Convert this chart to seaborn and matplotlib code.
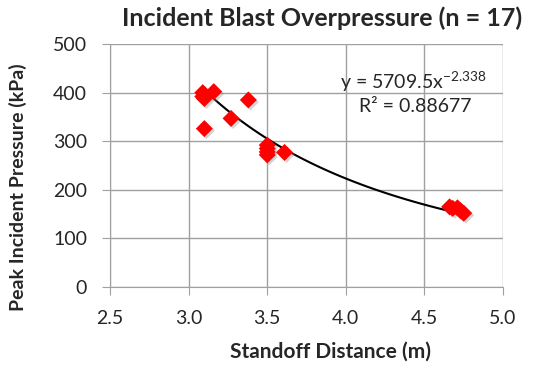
import matplotlib
matplotlib.use('Agg')
import matplotlib.pyplot as plt
import matplotlib.patheffects as pe
import numpy as np
import pandas as pd
import seaborn as sns

# Data
standoff = [3.09, 3.09, 3.10, 3.16, 3.10, 3.27, 3.38,
            3.50, 3.50, 3.50, 3.50, 3.61,
            4.66, 4.68, 4.71, 4.73, 4.75]
pressure = [400, 392, 388, 402, 326, 347, 385,
            292, 285, 278, 272, 277,
            165, 162, 163, 157, 152]

# Power trendline shown on the chart: y = 5709.5 x^-2.338
coef_a = 5709.5
coef_b = -2.338
r_squared = 0.88677

df = pd.DataFrame({'Standoff': standoff, 'Pressure': pressure})
x_fit = np.linspace(min(standoff), max(standoff), 100)
fit_df = pd.DataFrame({'Standoff': x_fit, 'Pressure': coef_a * x_fit ** coef_b})

sns.set_style('white')
plt.rcParams['font.family'] = ['Lato', 'DejaVu Sans']
plt.rcParams['mathtext.fontset'] = 'custom'
plt.rcParams['mathtext.rm'] = 'Lato'
plt.rcParams['mathtext.it'] = 'Lato:italic'

fig = plt.figure(figsize=(5.38, 3.68), dpi=100)
ax = fig.add_axes([0.2045, 0.22, 0.7305, 0.6603])

sns.lineplot(x='Standoff', y='Pressure', data=fit_df, ax=ax, color='black', linewidth=1.5)
sns.scatterplot(x='Standoff', y='Pressure', data=df, ax=ax, color='#ff0000', marker='D',
                s=75, edgecolor='#ff0000', linewidth=0, zorder=3)
ax.collections[-1].set_path_effects([pe.SimplePatchShadow(offset=(1.5, -1.5), shadow_rgbFace='#888888', alpha=0.35),
                                     pe.Normal()])

ax.set_xlim(2.5, 5.0)
ax.set_ylim(0, 500)
ax.set_xticks([2.5, 3.0, 3.5, 4.0, 4.5, 5.0])
ax.set_xticklabels(['2.5', '3.0', '3.5', '4.0', '4.5', '5.0'])
ax.set_yticks([0, 100, 200, 300, 400, 500])
ax.grid(True, color='#a0a0a0', linewidth=1)
ax.set_axisbelow(True)
for side in ['top', 'right']:
    ax.spines[side].set_visible(False)
for side in ['left', 'bottom']:
    ax.spines[side].set_color('#a0a0a0')
ax.tick_params(axis='both', labelsize=14, length=5.5, color='#a0a0a0', direction='out',
               left=True, bottom=True)
ax.tick_params(axis='x', pad=11)
ax.tick_params(axis='y', pad=11)

fig.text(0.599, 0.95, 'Incident Blast Overpressure (n = 17)', fontsize=18, fontweight='bold',
         ha='center', va='center')
ax.set_xlabel('Standoff Distance (m)', fontsize=15, fontweight='bold')
ax.set_ylabel('Peak Incident Pressure (kPa)', fontsize=14, fontweight='bold')
ax.xaxis.set_label_coords(0.56, -0.225)
ax.yaxis.set_label_coords(-0.211, 0.41)

ax.text(0.957, 0.844, 'y = %.1fx$^{\\mathregular{%.3f}}$' % (coef_a, coef_b), transform=ax.transAxes,
        ha='right', va='center', fontsize=14)
ax.text(0.92, 0.741, 'R² = %.5f' % r_squared, transform=ax.transAxes,
        ha='right', va='center', fontsize=14)

fig.savefig('out.png', dpi=100)
